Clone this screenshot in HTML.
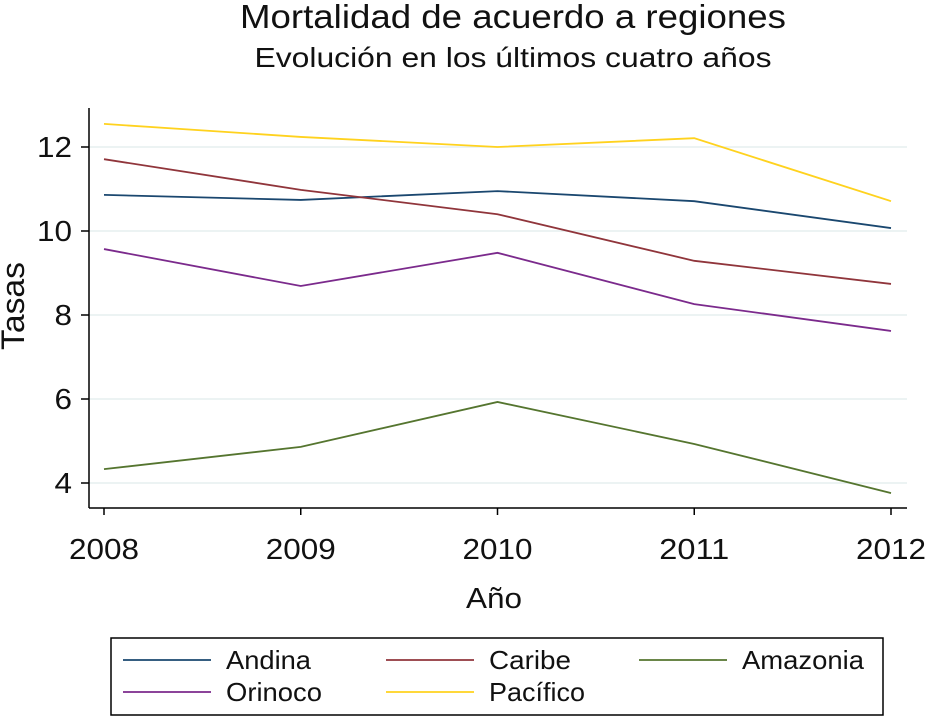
<!DOCTYPE html>
<html><head><meta charset="utf-8"><style>
body{margin:0;background:#fff;}
svg{display:block;font-family:"Liberation Sans",Arial,sans-serif;}
</style></head><body>
<svg id="chart" width="925" height="717" viewBox="0 0 925 717">
<text x="513" y="28" font-size="33" text-anchor="middle" textLength="546" lengthAdjust="spacingAndGlyphs" fill="#111">Mortalidad de acuerdo a regiones</text>
<text x="513" y="67" font-size="28" text-anchor="middle" textLength="517" lengthAdjust="spacingAndGlyphs" fill="#111">Evolución en los últimos cuatro años</text>
<g id="grid"></g>
<line x1="89" y1="108" x2="89" y2="508" stroke="#000" stroke-width="1.5"/>
<line x1="89" y1="508" x2="907" y2="508" stroke="#000" stroke-width="1.5"/>
<g id="ticks"></g>
<g id="series"></g>
<text transform="translate(24,306) rotate(-90)" font-size="32" text-anchor="middle" textLength="88" lengthAdjust="spacingAndGlyphs" fill="#111">Tasas</text>
<text x="494" y="608" font-size="29" text-anchor="middle" textLength="56" lengthAdjust="spacingAndGlyphs" fill="#111">Año</text>
<rect x="111" y="638" width="772" height="77" fill="#fff" stroke="#000" stroke-width="1.5"/>
<g id="legend"></g>
</svg>
<script>
const years=[2008,2009,2010,2011,2012];
const yTicks=[4,6,8,10,12];
const andina=[10.86,10.74,10.95,10.71,10.07];
const caribe=[11.71,10.98,10.40,9.29,8.74];
const amazonia=[4.33,4.86,5.93,4.93,3.76];
const orinoco=[9.57,8.69,9.48,8.26,7.62];
const pacifico=[12.55,12.24,12.0,12.21,10.71];
const seriesNames=["Andina","Caribe","Amazonia","Orinoco","Pacífico"];
const seriesColors=["#1a476f","#90353b","#55752f","#7b2a8c","#ffd21e"];
const seriesData=[andina,caribe,amazonia,orinoco,pacifico];
const NS="http://www.w3.org/2000/svg";
function xs(y){return 104+(y-2008)*(891-104)/4;}
function ys(v){return 147+(12-v)*42;}
function mk(t,a,p){const e=document.createElementNS(NS,t);for(const k in a)e.setAttribute(k,a[k]);p.appendChild(e);return e;}
const grid=document.getElementById('grid'),ticks=document.getElementById('ticks'),ser=document.getElementById('series'),leg=document.getElementById('legend');
yTicks.forEach(v=>{
 const g=mk('line',{x1:89,x2:907,y1:ys(v),y2:ys(v),stroke:'#e6efef','stroke-width':1.5},grid);
 
 
 const t=mk('line',{x1:81,x2:89,y1:ys(v),y2:ys(v),stroke:'#000','stroke-width':1.5},ticks);
 
 
 const s=String(v);
 const l=mk('text',{x:72,y:ys(v)+10,'font-size':29,'text-anchor':'end',fill:'#111',textLength:s.length*17.5,lengthAdjust:'spacingAndGlyphs'},ticks);
 l.textContent=v;
 
 
});
years.forEach(y=>{
 const t=mk('line',{x1:xs(y),x2:xs(y),y1:508,y2:515,stroke:'#000','stroke-width':1.5},ticks);
 
 
 const l=mk('text',{x:xs(y),y:559,'font-size':29,'text-anchor':'middle',fill:'#111',textLength:70,lengthAdjust:'spacingAndGlyphs'},ticks);
 l.textContent=y;
 
 
});
seriesData.forEach((d,i)=>{
 const p=mk('polyline',{points:d.map((v,j)=>xs(years[j])+','+ys(v)).join(' '),fill:'none',stroke:seriesColors[i],'stroke-width':1.8},ser);
 
 
});
const legPos=[[123,660],[386,660],[639,660],[123,692],[386,692]];
const legW=[85,82,122,96,96];
seriesNames.forEach((n,i)=>{
 const [x,y]=legPos[i];
 const l=mk('line',{x1:x,x2:x+88,y1:y,y2:y,stroke:seriesColors[i],'stroke-width':1.8},leg);
 
 
 const t=mk('text',{x:x+103,y:y+9,'font-size':26,fill:'#111',textLength:legW[i],lengthAdjust:'spacingAndGlyphs'},leg);
 t.textContent=n;
 
 
});
</script>
</body></html>
